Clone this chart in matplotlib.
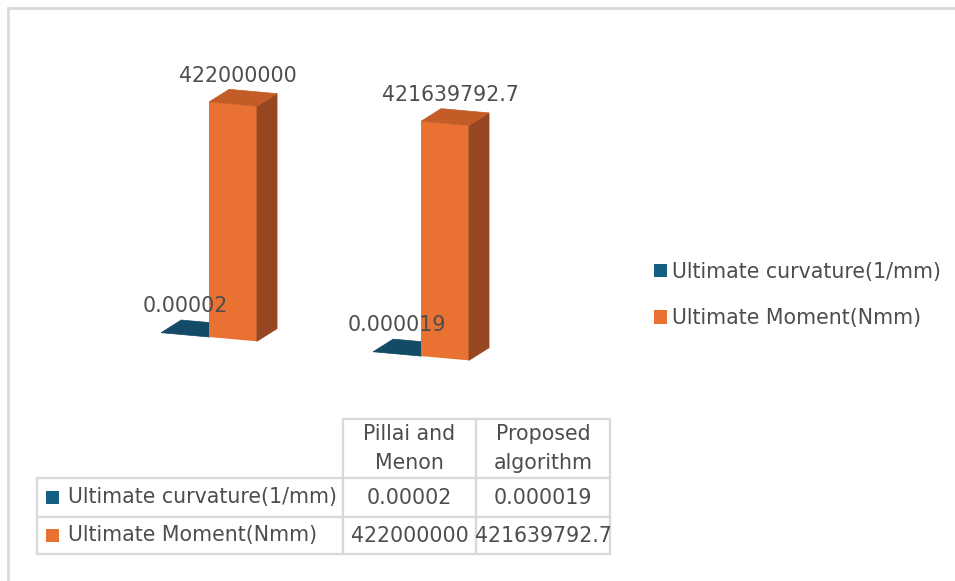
import math
import matplotlib
matplotlib.use("Agg")
import matplotlib.pyplot as plt
from matplotlib.patches import Polygon, Rectangle, Patch
from matplotlib.transforms import Affine2D, offset_copy
from matplotlib.table import Table

# ---- data -------------------------------------------------------------
categories = ["Pillai and\nMenon", "Proposed\nalgorithm"]
series_names = ["Ultimate curvature(1/mm)", "Ultimate Moment(Nmm)"]
curvature = [0.00002, 0.000019]
moment = [422000000, 421639792.7]

# ---- style ------------------------------------------------------------
FS = 14.8
TEXT = "#4d4d4d"
GRID = "#d9d9d9"
BLUE = {"front": "#156082", "side": "#0e4660", "top": "#134a66"}
ORANGE = {"front": "#e97132", "side": "#964620", "top": "#c35c27"}
W = 0.226          # bar width (category units)
DX, DY = 0.095, 2.6e7   # depth offset of the pseudo-3D boxes
SLOPE = 0.09       # floor tilt


def fmt(v):
    return f"{v:f}".rstrip("0").rstrip(".")


FW, FH = 955, 581
fig = plt.figure(figsize=(FW / 100, FH / 100), dpi=100)
fig.patch.set_facecolor("white")

# chart border (only the top and left edges fall inside the image)
fig.patches.append(Rectangle((8 / FW, -0.2), 1.5, 1.2 - 8 / FH,
                             transform=fig.transFigure, fill=False,
                             edgecolor=GRID, linewidth=2))

# ---- bar axes -----------------------------------------------------------
ax_l, ax_r = 100, 600
base_y, top_y = 337, 337 - 235 * 5e8 / 422e6
ax = fig.add_axes([ax_l / FW, 1 - base_y / FH, (ax_r - ax_l) / FW,
                   (base_y - top_y) / FH])
ax.set_xlim((ax_l - 209) / 212, (ax_r - 209) / 212)
ax.set_ylim(0, 5e8)
ax.axis("off")

px0 = ax.transData.transform((0, 0))[0]
shear = (Affine2D().translate(-px0, 0)
         .skew(0, -math.atan(SLOPE)).translate(px0, 0))
tr = ax.transData + shear


def box(x0, v, colors):
    ax.bar([x0], [v], width=W, align="edge", color=colors["front"],
           transform=tr, clip_on=False, linewidth=0)
    side = [(x0 + W, 0), (x0 + W + DX, DY), (x0 + W + DX, v + DY), (x0 + W, v)]
    top = [(x0, v), (x0 + W, v), (x0 + W + DX, v + DY), (x0 + DX, v + DY)]
    for pts, c in ((side, colors["side"]), (top, colors["top"])):
        ax.add_patch(Polygon(pts, closed=True, facecolor=c, edgecolor=c,
                             linewidth=0.5, transform=tr, clip_on=False))


for i in range(len(categories)):
    xb, xo = i - W, i
    box(xb, curvature[i], BLUE)
    box(xo, moment[i], ORANGE)
    lab_b = offset_copy(tr, fig=fig, x=0, y=6, units="points")
    ax.text(xb + W / 2, curvature[i] + DY, fmt(curvature[i]),
            transform=lab_b, ha="center", va="baseline",
            fontsize=FS, color=TEXT)
    lab_o = offset_copy(tr, fig=fig, x=0, y=6, units="points")
    ax.text(xo + W / 2 + DX / 4, moment[i] + DY, fmt(moment[i]),
            transform=lab_o, ha="center", va="baseline",
            fontsize=FS, color=TEXT)

ax.set_xlim((ax_l - 209) / 212, (ax_r - 209) / 212)
ax.set_ylim(0, 5e8)

# ---- legend -------------------------------------------------------------
handles = [Patch(facecolor=BLUE["front"]), Patch(facecolor=ORANGE["front"])]
fig.legend(handles, series_names, loc="center left",
           bbox_to_anchor=(654 / FW, 1 - 295 / FH), frameon=False,
           fontsize=FS, labelcolor=TEXT, handlelength=0.62,
           handleheight=0.62, handletextpad=0.25, labelspacing=1.3,
           borderpad=0, borderaxespad=0)

# ---- data table ---------------------------------------------------------
t_l, t_r, t_top, t_bot = 37, 610, 419, 554
col_px = [306, 133, 134]
row_px = [59, 39, 37]
tax = fig.add_axes([t_l / FW, 1 - t_bot / FH, (t_r - t_l) / FW,
                    (t_bot - t_top) / FH])
tax.axis("off")
tab = Table(tax, bbox=[0, 0, 1, 1])
cw = [c / sum(col_px) for c in col_px]
rh = [r / sum(row_px) for r in row_px]

rows = [[""] + categories,
        [series_names[0]] + [fmt(v) for v in curvature],
        [series_names[1]] + [fmt(v) for v in moment]]
for r, row in enumerate(rows):
    for c, txt in enumerate(row):
        loc = "left" if (c == 0 and r > 0) else "center"
        cell = tab.add_cell(r, c, width=cw[c], height=rh[r], text=txt,
                            loc=loc, edgecolor=GRID, facecolor="white")
        cell.set_linewidth(1.6)
        cell.get_text().set_color(TEXT)
        cell.get_text().set_linespacing(1.55)
        if r == 0 and c == 0:
            cell.visible_edges = "open"
tab.auto_set_font_size(False)
tab.set_fontsize(FS)
tax.add_table(tab)

# legend keys inside the row-label cells
key = 13
for r, colors in ((1, BLUE), (2, ORANGE)):
    y_mid = t_bot - sum(row_px[r + 1:]) - row_px[r] / 2
    tax.add_patch(Rectangle(((46 - t_l) / (t_r - t_l),
                             (t_bot - y_mid - key / 2) / (t_bot - t_top)),
                            key / (t_r - t_l), key / (t_bot - t_top),
                            transform=tax.transAxes,
                            facecolor=colors["front"], edgecolor="none",
                            zorder=5, clip_on=False))

fig.savefig("out.png", dpi=100, facecolor="white")
